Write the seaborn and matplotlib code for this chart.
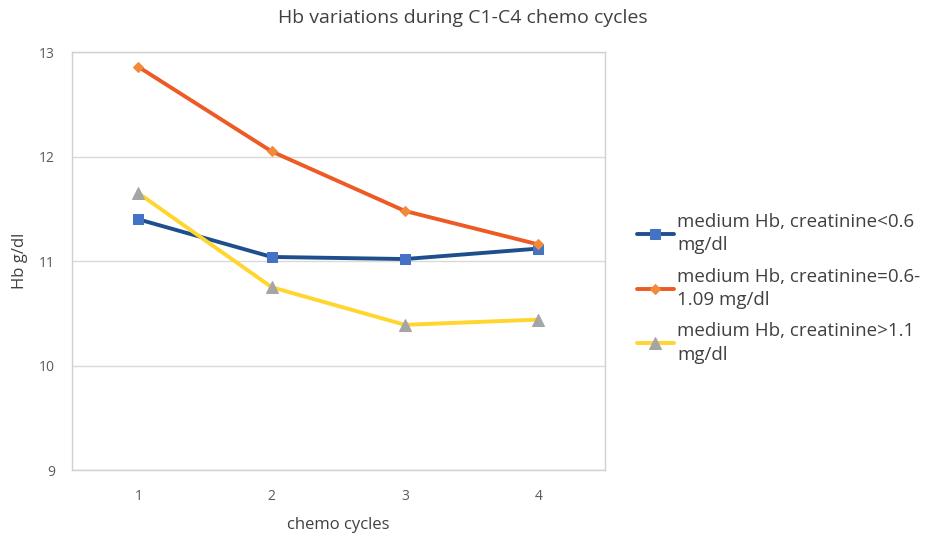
import pandas as pd
import matplotlib
matplotlib.use("Agg")
import matplotlib.pyplot as plt
import seaborn as sns

# chart data
cycles = [1, 2, 3, 4]
hb_low_creat = [11.40, 11.04, 11.02, 11.12]
hb_mid_creat = [12.86, 12.05, 11.48, 11.16]
hb_high_creat = [11.65, 10.75, 10.39, 10.44]
series_labels = [
    "medium Hb, creatinine<0.6\nmg/dl",
    "medium Hb, creatinine=0.6-\n1.09 mg/dl",
    "medium Hb, creatinine>1.1\nmg/dl",
]
y_ticks = [9, 10, 11, 12, 13]

sns.set_style("white")
plt.rcParams["font.family"] = ["Open Sans", "DejaVu Sans"]

fig = plt.figure(figsize=(9.32, 5.44), dpi=100)
ax = fig.add_axes([0.077, 0.136, 0.572, 0.768])

styles = [
    dict(color="#1F4E8C", marker="s", markerfacecolor="#4472C4", markeredgecolor="#4472C4", markersize=7),
    dict(color="#EE5A24", marker="D", markerfacecolor="#F28A3A", markeredgecolor="#F28A3A", markersize=5.5),
    dict(color="#FFD52E", marker="^", markerfacecolor="#A5A5A5", markeredgecolor="#A5A5A5", markersize=8),
]
values = [hb_low_creat, hb_mid_creat, hb_high_creat]

for vals, label, st in zip(values, series_labels, styles):
    df = pd.DataFrame({"cycle": cycles, "hb": vals})
    sns.lineplot(data=df, x="cycle", y="hb", ax=ax, label=label, linewidth=2.8, **st)

ax.set_xlim(0.5, 4.5)
ax.set_ylim(9, 13)
ax.set_xticks(cycles)
ax.set_yticks(y_ticks)
ax.yaxis.grid(True, color="#D9D9D9", linewidth=1)
ax.set_axisbelow(True)
for sp in ax.spines.values():
    sp.set_color("#D0D0D0")
    sp.set_linewidth(1)
ax.tick_params(axis="both", length=0, labelsize=10, colors="#595959")
ax.tick_params(axis="x", pad=14)
ax.tick_params(axis="y", pad=12)

ax.set_xlabel("chemo cycles", fontsize=12, color="#404040", labelpad=9)
ax.set_ylabel("Hb g/dl", fontsize=12, color="#404040", labelpad=8)
fig.text(0.497, 0.967, "Hb variations during C1-C4 chemo cycles", ha="center", va="center",
         fontsize=14, color="#404040")

handles, labels = ax.get_legend_handles_labels()
ax.get_legend().remove()
leg = fig.legend(handles, labels, loc="center left", bbox_to_anchor=(0.665, 0.47), frameon=False,
                 fontsize=13.5, labelcolor="#404040", handlelength=2.0, handletextpad=0.15,
                 labelspacing=0.7)
for t in leg.get_texts():
    t.set_linespacing(1.4)

fig.savefig("out.png", dpi=100)
